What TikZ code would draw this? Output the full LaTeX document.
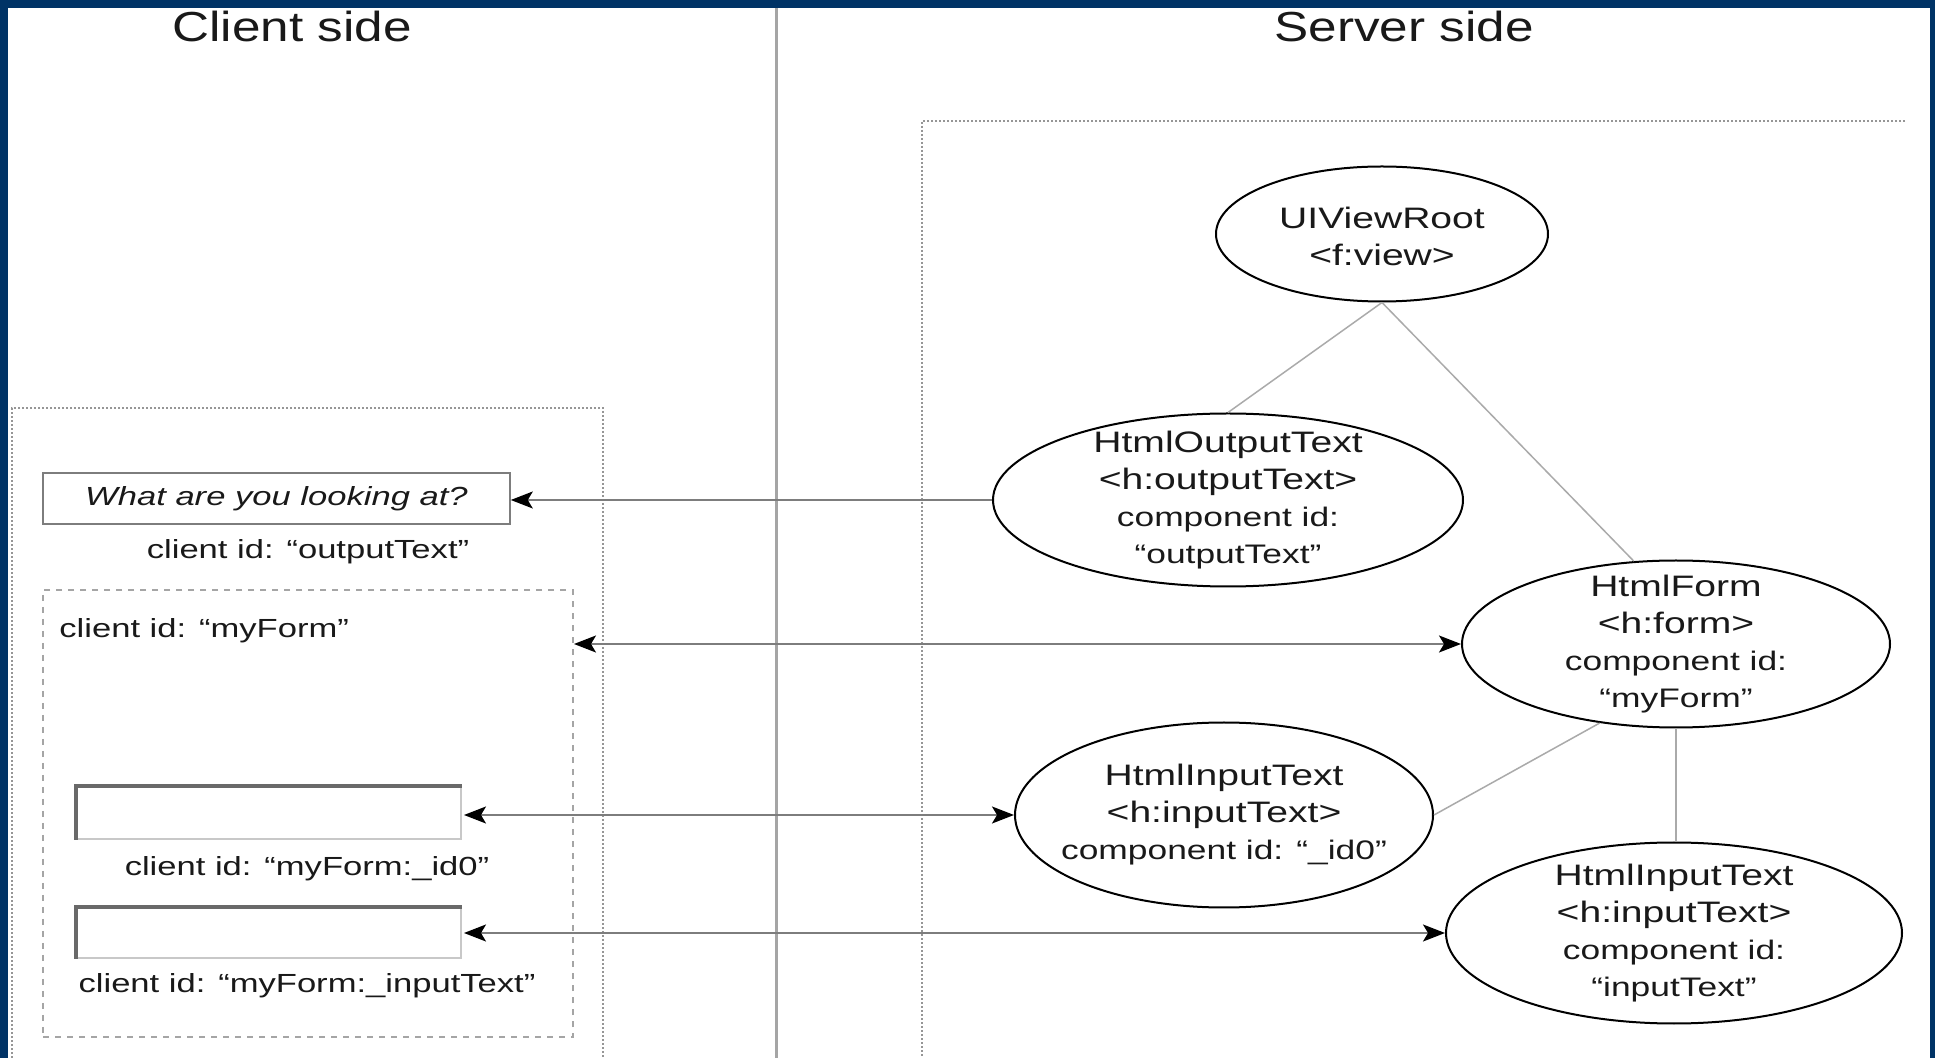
\documentclass[tikz,border=0pt]{standalone}
\usepackage{fontspec}
\setmainfont{Liberation Sans}[FakeStretch=1.32]
\newfontfamily\titlefont{Liberation Sans}[FakeStretch=1.22]
\usetikzlibrary{shapes.geometric,arrows.meta}
\definecolor{frameblue}{RGB}{0,51,102}
\definecolor{sepgray}{RGB}{165,165,165}
\definecolor{treegray}{RGB}{170,170,170}
\definecolor{arrgray}{RGB}{125,125,125}
\definecolor{boxgray}{RGB}{150,150,150}
\definecolor{insetdark}{RGB}{105,105,105}
\definecolor{insetlight}{RGB}{200,200,200}
\definecolor{inkgray}{RGB}{25,25,25}
\newcommand\idsize{\fontsize{13.4}{18.5}\selectfont}
\begin{document}
\begin{tikzpicture}[x=0.5pt,y=-0.5pt,
  >={Stealth[length=11pt,width=8.5pt,inset=2.5pt,black]},
  comp/.style={ellipse, draw=black, line width=1pt, inner sep=0pt},
  comptext/.style={align=center, inner sep=0pt, text=inkgray, font=\fontsize{14.8}{18.5}\selectfont},
  cidtext/.style={inner sep=0pt, text=inkgray, font=\fontsize{13.1}{16}\selectfont},
  sidetitle/.style={inner sep=0pt, anchor=base, text=inkgray, font=\titlefont\fontsize{21}{25}\selectfont},
  treeline/.style={draw=treegray, line width=0.75pt},
  link/.style={draw=arrgray, line width=0.8pt},
  inputbox/.style={draw=insetlight, line width=1pt, minimum width=192pt, inner sep=0pt, fill=white},
  insetedge/.style={draw=insetdark, line width=2pt}
]
\useasboundingbox (0,0) rectangle (1935,1058);
% frame
\fill[frameblue] (0,0) rectangle (1935,1058);
\fill[white] (8,8) rectangle (1930,1058);
% separator
\draw[sepgray, line width=1.5pt] (776,8) -- (776,1058);
% titles
\node[sidetitle] (client) at (292,42) {Client side};
\node[sidetitle] (server) at (1404,42) {Server side};
% server dotted frame
\draw[boxgray, line width=0.8pt, dash pattern=on 1pt off 1pt] (1905,121) -- (922,121) -- (922,1058);
% client dotted frame
\draw[boxgray, line width=0.8pt, dash pattern=on 1pt off 1pt] (12,1058) -- (12,408) -- (603,408) -- (603,1058);
% form dashed box
\node[draw=sepgray, line width=1pt, dash pattern=on 3pt off 3pt, minimum width=265pt, minimum height=223.5pt, inner sep=0pt] (formbox) at (308,813.5) {};
% output text box
\node[draw=arrgray, line width=0.8pt, minimum width=233.5pt, minimum height=25.5pt, inner sep=0pt, text=inkgray, font=\itshape\fontsize{13.1}{16}\selectfont] (outbox) at (276.5,498.5) {What are you looking at?};
% input boxes
\node[inputbox, minimum height=26pt] (in1box) at (269,813) {};
\draw[insetedge] (in1box.south west) -- (in1box.north west) -- (in1box.north east);
\node[inputbox, minimum height=25pt] (in2box) at (269,933) {};
\draw[insetedge] (in2box.south west) -- (in2box.north west) -- (in2box.north east);
% client labels
\node[cidtext, anchor=base] (cid1) at (308,559) {client id: “outputText”};
\node[cidtext, anchor=base west] (cid2) at (59,638) {client id: “myForm”};
\node[cidtext, anchor=base] (cid3) at (307,876) {client id: “myForm:\_id0"};
\node[cidtext, anchor=base] (cid4) at (307,993) {client id: “myForm:\_inputText”};
% server components
\node[comp, minimum width=166pt, minimum height=67.5pt] (root) at (1382,234) {};
\node[comptext] (roottext) at (1382,236) {UIViewRoot\\<f:view>};
\node[comp, minimum width=235pt, minimum height=86.5pt] (out) at (1228,500) {};
\node[comptext] (outtext) at (1228,500) {HtmlOutputText\\<h:outputText>\\{\idsize component id:}\\{\idsize “outputText"}};
\node[comp, minimum width=214pt, minimum height=83.5pt] (form) at (1676,644) {};
\node[comptext] (formtext) at (1676,644) {HtmlForm\\<h:form>\\{\idsize component id:}\\{\idsize “myForm”}};
\node[comp, minimum width=209pt, minimum height=92.5pt] (in1) at (1224,815) {};
\node[comptext] (in1text) at (1224,815) {HtmlInputText\\<h:inputText>\\{\idsize component id: “\_id0"}};
\node[comp, minimum width=228pt, minimum height=90.5pt] (in2) at (1674,933) {};
\node[comptext] (in2text) at (1674,933) {HtmlInputText\\<h:inputText>\\{\idsize component id:}\\{\idsize “inputText"}};
% tree lines
\draw[treeline] (root.south) -- (out.north);
\draw[treeline] (root.south) -- (form.117);
\draw[treeline] (form.226) -- (in1.east);
\draw[treeline] (form.south) -- (form.south |- in2.north);
% links
\draw[link, <-] (out.west -| outbox.east) -- (out.west);
\draw[link, <->] (form.west -| formbox.east) -- (form.west);
\draw[link, <->] ([xshift=1pt]in1.west -| in1box.east) -- (in1.west);
\draw[link, <->] ([xshift=1pt]in2.west -| in2box.east) -- (in2.west);
\end{tikzpicture}
\end{document}
